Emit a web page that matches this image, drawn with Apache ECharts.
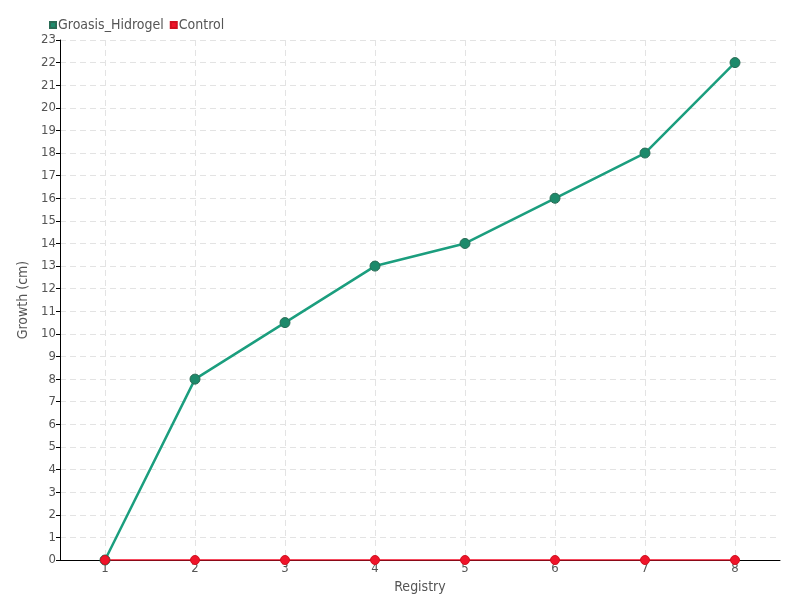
<!DOCTYPE html>
<html>
<head>
<meta charset="utf-8">
<script src="https://cdn.jsdelivr.net/npm/echarts@6/dist/echarts.min.js"></script>
<style>
  html, body { margin: 0; padding: 0; background: #fff; }
  #chart { width: 800px; height: 600px; }
</style>
</head>
<body>
<div id="chart"></div>
<script>
const registries = ["1", "2", "3", "4", "5", "6", "7", "8"]
const hidrogelGrowth = [0, 8, 10.5, 13, 14, 16, 18, 22]
const controlGrowth = [0, 0, 0, 0, 0, 0, 0, 0]

const FONT = "'DejaVu Sans Condensed', 'Roboto', sans-serif"
const TEXT = "#555"

const chart = echarts.init(document.getElementById("chart"))

chart.setOption({
  animation: false,
  textStyle: { fontFamily: FONT },
  legend: {
    left: 44,
    top: 13,
    itemWidth: 6,
    itemHeight: 6,
    itemGap: 6,
    icon: "rect",
    textStyle: { color: TEXT, fontSize: 14, fontFamily: FONT, padding: [0, 0, 0, -3] },
    data: ["Groasis_Hidrogel", "Control"],
  },
  grid: { left: 60, right: 20, top: 40, bottom: 40 },
  xAxis: {
    type: "category",
    data: registries,
    name: "Registry",
    nameLocation: "middle",
    nameGap: 13,
    nameTextStyle: { color: TEXT, fontSize: 14, fontFamily: FONT },
    axisLine: { lineStyle: { color: "#000" } },
    axisTick: { show: false, alignWithLabel: true },
    axisLabel: { color: TEXT, fontSize: 13, margin: 2, fontFamily: FONT },
    splitLine: { show: true, alignWithLabel: true, lineStyle: { color: "#e3e3e3", type: [6, 4] } },
  },
  yAxis: {
    type: "value",
    min: 0,
    max: 23,
    interval: 1,
    name: "Growth (cm)",
    nameLocation: "middle",
    nameGap: 26,
    nameTextStyle: { color: TEXT, fontSize: 14, fontFamily: FONT },
    axisLine: { show: true, lineStyle: { color: "#000" } },
    axisTick: { show: true, length: 4, lineStyle: { color: "#000" } },
    axisLabel: { color: TEXT, fontSize: 13, margin: 4, fontFamily: FONT },
    splitLine: { lineStyle: { color: "#e3e3e3", type: [6, 4] } },
  },
  series: [
    {
      name: "Groasis_Hidrogel",
      type: "line",
      data: hidrogelGrowth,
      symbol: "circle",
      symbolSize: 10,
      color: "#1b9e7e",
      lineStyle: { width: 2.5, color: "#1b9e7e" },
      itemStyle: { color: "#1d8a6b", borderColor: "#2a6b55", borderWidth: 1 },
    },
    {
      name: "Control",
      type: "line",
      data: controlGrowth,
      symbol: "circle",
      symbolSize: 9,
      color: "#f5102a",
      lineStyle: { width: 1.5, color: "#f5102a" },
      itemStyle: { color: "#f0142a", borderColor: "#d0101f", borderWidth: 1 },
    },
  ],
})
</script>
</body>
</html>
